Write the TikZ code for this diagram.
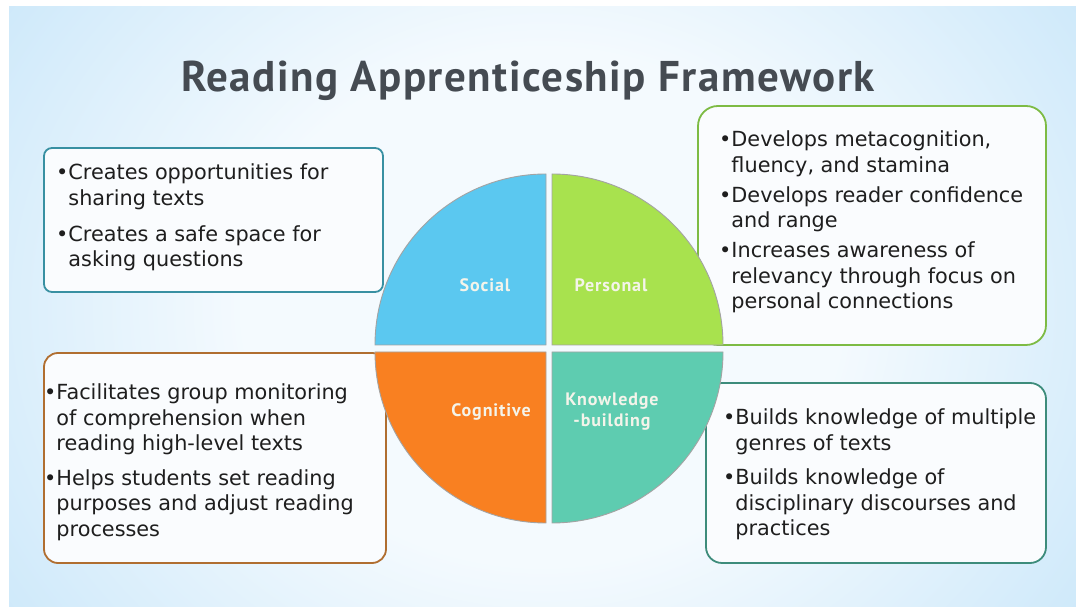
\documentclass[tikz,border=0pt]{standalone}
\usepackage{fontspec}
\setmainfont{PT Sans}
\newfontfamily\labelfont{PT Sans}[LetterSpace=5]
\newfontfamily\titlefont{PT Sans}[LetterSpace=3.5]
\newfontfamily\bodyfont{DejaVu Sans}
\definecolor{bgblue}{HTML}{A0D4F5}
\definecolor{bgwhite}{HTML}{F4FAFE}
\definecolor{txt}{HTML}{1E1E1E}
\definecolor{titlegray}{HTML}{454B52}
\definecolor{socialc}{HTML}{5BC8F0}
\definecolor{personalc}{HTML}{A8E24E}
\definecolor{cognitivec}{HTML}{F98021}
\definecolor{knowc}{HTML}{5ECCB0}
\definecolor{edgec}{HTML}{A3A3A3}
\definecolor{boxa}{HTML}{3890A2}
\definecolor{boxb}{HTML}{7DBB44}
\definecolor{boxc}{HTML}{B06E30}
\definecolor{boxd}{HTML}{3D8C7B}
\definecolor{boxfill}{HTML}{FAFCFE}
\definecolor{lbl}{HTML}{F4F4EA}
\pgfdeclareradialshading{bgshade}{\pgfpoint{0bp}{0bp}}{%
  color(0bp)=(bgwhite); color(14bp)=(bgwhite); color(50bp)=(bgblue); color(70bp)=(bgblue)}
% bullet list block whose baseline is the first line's baseline
\newcommand{\bulletblock}[1]{\parbox[t]{400pt}{\raggedright #1}}
\newcommand{\hang}{\hphantom{•}}
\begin{document}
\begin{tikzpicture}[x=1pt,y=1pt,
  infobox/.style={draw, line width=1.8pt, fill=boxfill, rectangle, inner sep=0pt},
  bodytext/.style={font=\bodyfont\fontsize{20.8}{25.5}\selectfont, text=txt,
    inner sep=0pt, anchor=base west},
  quarter/.style={draw=edgec, line width=0.9pt},
  pielabel/.style={font=\labelfont\bfseries\fontsize{18}{21}\selectfont, text=lbl,
    align=center, inner sep=0pt}]
\useasboundingbox (0,0) rectangle (1076,607);
% page background
\fill[white] (0,0) rectangle (1076,607);
\begin{scope}
  \clip (9,0) rectangle (1076,600);
  \shade[shading=bgshade] (9,-160) rectangle (1076,760);
\end{scope}

% title
\node[font=\titlefont\bfseries\fontsize{43}{47}\selectfont, text=titlegray, anchor=base, inner sep=0pt]
  (title) at (528,515) {Reading Apprenticeship Framework};

% description boxes
\node[infobox, draw=boxa, rounded corners=8pt, minimum width=339pt, minimum height=144pt]
  (b1) at (213.5,387) {};
\node[infobox, draw=boxb, rounded corners=20pt, minimum width=348pt, minimum height=239pt]
  (b2) at (872,381.5) {};
\node[infobox, draw=boxc, rounded corners=14pt, minimum width=342pt, minimum height=210pt]
  (b3) at (215,149) {};
\node[infobox, draw=boxd, rounded corners=16pt, minimum width=340pt, minimum height=180pt]
  (b4) at (876,134) {};

\node[bodytext] (t1) at (56,427) {\bulletblock{•Creates opportunities for\\
  \hang sharing texts\\[10.5pt]
  •Creates a safe space for\\
  \hang asking questions}};
\node[bodytext] (t2) at (719,460) {\bulletblock{•Develops metacognition,\\
  \hang fluency, and stamina\\[4.5pt]
  •Develops reader confidence\\
  \hang and range\\[4.5pt]
  •Increases awareness of\\
  \hang relevancy through focus on\\
  \hang personal connections}};
\node[bodytext] (t3) at (44,207) {\bulletblock{•Facilitates group monitoring\\
  \hang of comprehension when\\
  \hang reading high-level texts\\[9pt]
  •Helps students set reading\\
  \hang purposes and adjust reading\\
  \hang processes}};
\node[bodytext] (t4) at (723,182) {\bulletblock{•Builds knowledge of multiple\\
  \hang genres of texts\\[9pt]
  •Builds knowledge of\\
  \hang disciplinary discourses and\\
  \hang practices}};

% the four quarters of the circle
\coordinate (cs) at (546,262);
\coordinate (cp) at (552,262);
\coordinate (cc) at (546,255);
\coordinate (ck) at (552,255);
\filldraw[quarter, fill=socialc] (cs) -- ++(-171,0) arc[start angle=180, end angle=90, radius=171] -- cycle;
\filldraw[quarter, fill=personalc] (cp) -- ++(0,171) arc[start angle=90, end angle=0, radius=171] -- cycle;
\filldraw[quarter, fill=cognitivec] (cc) -- ++(-171,0) arc[start angle=180, end angle=270, radius=171] -- cycle;
\filldraw[quarter, fill=knowc] (ck) -- ++(171,0) arc[start angle=0, end angle=-90, radius=171] -- cycle;

\node[pielabel] (social) at (485,322) {Social};
\node[pielabel] (personal) at (611,322) {Personal};
\node[pielabel] (cognitive) at (491,195) {Cognitive};
\node[pielabel] (knowledge) at (612,195) {Knowledge\\-building};
\end{tikzpicture}
\end{document}
